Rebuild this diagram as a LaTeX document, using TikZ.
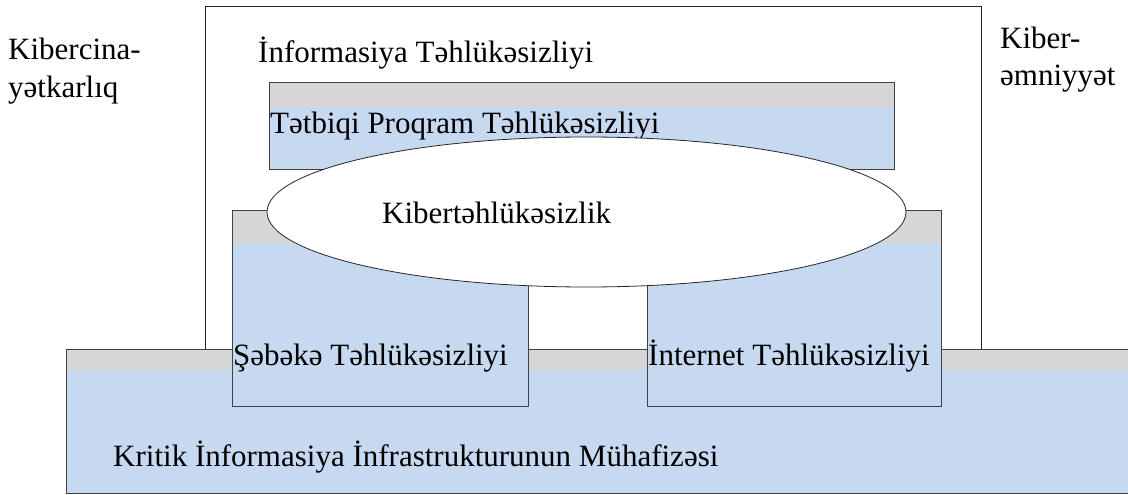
\documentclass[tikz,border=0pt]{standalone}
\usepackage{fontspec}
\setmainfont{Liberation Serif}
\usetikzlibrary{shapes.geometric}

\definecolor{bandgray}{HTML}{D6D6D6}
\definecolor{layerblue}{HTML}{C6D9F0}

\tikzset{
  layer/.style={fill=layerblue, draw=black!75, line width=0.8pt, inner sep=0pt, anchor=north west,
    path picture={\fill[bandgray] (path picture bounding box.north west) rectangle ([yshift=-#1]path picture bounding box.north east);}},
  lbl/.style={anchor=base west, inner sep=0pt, align=left, font=\fontsize{31}{37}\selectfont},
}

\begin{document}
\begin{tikzpicture}[x=1pt, y=-1pt]
\useasboundingbox (0,0) rectangle (1128,495);

% outer frame
\node (frame) [draw=black!85, line width=0.9pt, fill=white, anchor=north west, inner sep=0pt,
  minimum width=776, minimum height=343] at (205,6) {};

% layers
\node (ciip) [layer=21pt, minimum width=1064, minimum height=144] at (66,349) {};
\node (appsec) [layer=25pt, minimum width=625, minimum height=87] at (269,82) {};
\node (netsec) [layer=33pt, minimum width=296, minimum height=196] at (232,210) {};
\node (websec) [layer=33pt, minimum width=294, minimum height=196] at (647,210) {};

\node (appsectxt) [lbl] at (270,133) {Tətbiqi Proqram Təhlükəsizliyi};

\node (cyber) [ellipse, draw=black!85, line width=0.8pt, fill=white, inner sep=0pt,
  minimum width=639, minimum height=150] at (586.5,212) {};

% texts (two-line labels sit on the last line)
\path
(8,97) node (kcinayet) [lbl] {Kibercina-\\yətkarlıq}
(1000,85) node (kemniyyet) [lbl] {Kiber-\\əmniyyət}
(258,63) node (infosectxt) [lbl] {İnformasiya Təhlükəsizliyi}
(382,223) node (cybertxt) [lbl] {Kibertəhlükəsizlik}
(233,365) node (netsectxt) [lbl] {Şəbəkə Təhlükəsizliyi}
(648,365) node (websectxt) [lbl] {İnternet Təhlükəsizliyi}
(113,466) node (ciiptxt) [lbl] {Kritik İnformasiya İnfrastrukturunun Mühafizəsi};

\end{tikzpicture}
\end{document}
